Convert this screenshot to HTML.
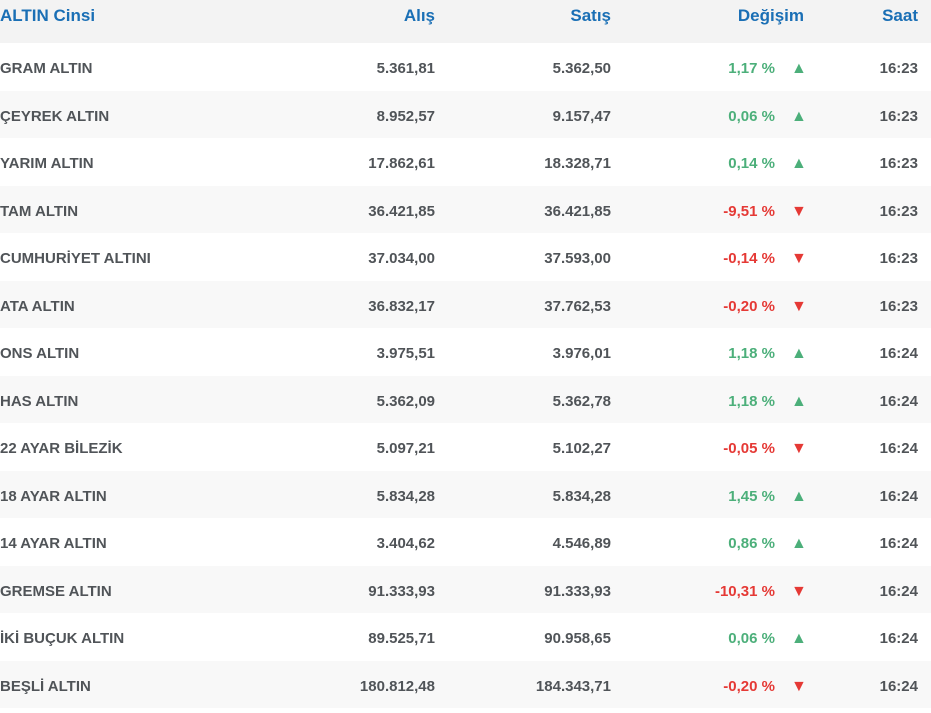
<!DOCTYPE html>
<html><head><meta charset="utf-8"><style>
body{margin:0;width:931px;height:713px;background:#fff;font-family:"Liberation Sans",sans-serif;overflow:hidden}
.r{position:absolute;left:0;width:931px;height:47.5px}
.r span{position:absolute;top:2px;line-height:47.5px;font-weight:bold;font-size:15px;color:#505458;white-space:nowrap}
.h{height:43px;background:#f3f3f3}
.h span{top:1px;line-height:30px;font-size:17px;color:#1a6fb5}
.g{background:#f8f8f8}
.n{left:0}.a{right:496px}.s{right:320px}.d{right:156px}.t{right:13px}.ar{left:791px;font-size:16px!important}
.up{color:#4caf7a!important}.dn{color:#e53935!important}
</style></head><body>
<div class="r h" style="top:0"><span class="n">ALTIN Cinsi</span><span class="a">Alış</span><span class="s">Satış</span><span style="right:127px">Değişim</span><span class="t">Saat</span></div>
<div id="c"></div>
<script>
var d=[["GRAM ALTIN","5.361,81","5.362,50","1,17 %",1,"16:23"],["ÇEYREK ALTIN","8.952,57","9.157,47","0,06 %",1,"16:23"],["YARIM ALTIN","17.862,61","18.328,71","0,14 %",1,"16:23"],["TAM ALTIN","36.421,85","36.421,85","-9,51 %",0,"16:23"],["CUMHURİYET ALTINI","37.034,00","37.593,00","-0,14 %",0,"16:23"],["ATA ALTIN","36.832,17","37.762,53","-0,20 %",0,"16:23"],["ONS ALTIN","3.975,51","3.976,01","1,18 %",1,"16:24"],["HAS ALTIN","5.362,09","5.362,78","1,18 %",1,"16:24"],["22 AYAR BİLEZİK","5.097,21","5.102,27","-0,05 %",0,"16:24"],["18 AYAR ALTIN","5.834,28","5.834,28","1,45 %",1,"16:24"],["14 AYAR ALTIN","3.404,62","4.546,89","0,86 %",1,"16:24"],["GREMSE ALTIN","91.333,93","91.333,93","-10,31 %",0,"16:24"],["İKİ BUÇUK ALTIN","89.525,71","90.958,65","0,06 %",1,"16:24"],["BEŞLİ ALTIN","180.812,48","184.343,71","-0,20 %",0,"16:24"]];
var h="";d.forEach(function(x,i){var c=x[4]?"up":"dn";h+='<div class="r'+(i%2?' g':'')+'" style="top:'+(43+i*47.5)+'px"><span class="n">'+x[0]+'</span><span class="a">'+x[1]+'</span><span class="s">'+x[2]+'</span><span class="d '+c+'">'+x[3]+'</span><span class="ar '+c+'">'+(x[4]?'▲':'▼')+'</span><span class="t">'+x[5]+'</span></div>'});
document.getElementById("c").innerHTML=h;
</script>
</body></html>
